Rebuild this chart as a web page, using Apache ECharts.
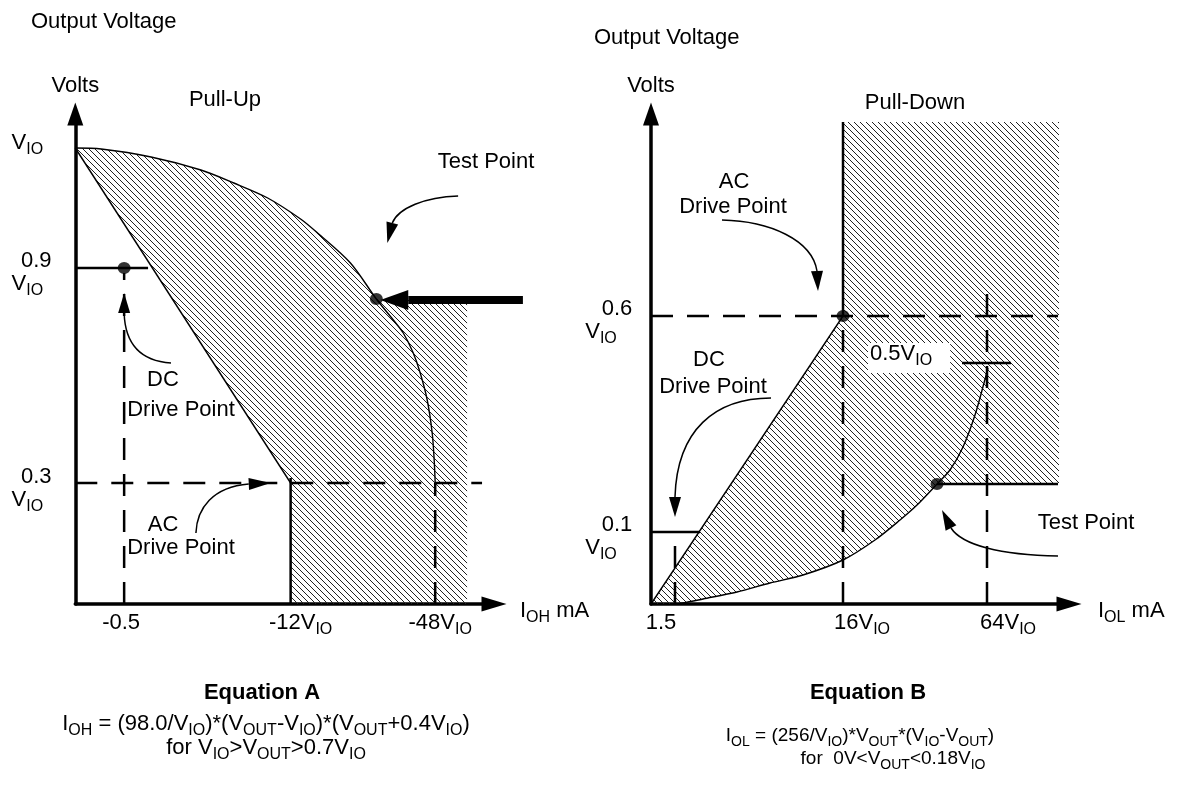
<!DOCTYPE html>
<html>
<head>
<meta charset="utf-8">
<script src="https://cdn.jsdelivr.net/npm/echarts@6/dist/echarts.min.js"></script>
<style>
  html, body { margin: 0; padding: 0; background: #fff; }
  #chart { width: 1180px; height: 793px; }
</style>
</head>
<body>
<div id="chart"></div>
<script>
// schematic drawing: axis units are "diagram units" measured from each panel's origin

// ---------- pull-up panel (left) ----------
const upXLabelAt = [46, 226, 366]
const upXLabelText = ['-0.5', '-12V{s|IO}', '-48V{s|IO}']
const upYLabelAt = [461, 331.5, 116]
const upYLabelText = ['V{s|IO}', '{n|0.9}\nV{s|IO}', '{n|0.3}\nV{s|IO}']
// outer boundary curve (V_IO down through the test point)
const upOuterCurve = [[0, 456], [26, 455], [76, 447], [126, 434], [159, 421], [193, 406], [226, 385], [243, 371],
  [276, 341], [302, 305], [319, 284], [329, 271], [339, 251], [346, 231], [353, 204], [358, 171], [360, 144], [361, 121]]
const upInnerLine = [[0, 456], [216, 121]]
const upHatch = [[0, 456], [26, 455], [76, 447], [126, 434], [159, 421], [193, 406], [226, 385], [243, 371],
  [276, 341], [302, 305], [393, 305], [393, 0], [216, 0], [216, 121]]
const upDots = [[49, 336], [302, 305]]
const upSolid = [[[0, 336], [73, 336]], [[216, 0], [216, 126]]]
const upDashed = [[[0, 121], [408, 121]], [[49, 0], [49, 331]], [[361, 0], [361, 121]]]

// ---------- pull-down panel (right) ----------
const downXLabelAt = [10, 211, 357]
const downXLabelText = ['1.5', '16V{s|IO}', '64V{s|IO}']
const downYLabelAt = [284, 68]
const downYLabelText = ['{n|0.6}\nV{s|IO}', '{n|0.1}\nV{s|IO}']
const downCurve = [[24, 0], [32, 1], [52, 5], [86, 12], [119, 21], [152, 29], [192, 44], [224, 64], [249, 84],
  [266, 99], [286, 120], [299, 134], [312, 157], [324, 189], [333, 221], [337, 236]]
const downUpperLine = [[0, 0], [192, 288]]
const downHatch = [[0, 0], [192, 288], [192, 482], [408, 482], [408, 120], [286, 120], [266, 99], [249, 84],
  [224, 64], [192, 44], [152, 29], [119, 21], [86, 12], [52, 5], [32, 1], [24, 0]]
const downDots = [[192, 288], [286, 120]]
const downSolid = [[[192, 288], [192, 482]], [[0, 72], [49, 72]], [[286, 120], [407, 120]], [[311, 241], [360, 241]]]
const downDashed = [[[0, 288], [407, 288]], [[192, 0], [192, 288]], [[336, 0], [336, 312]], [[24, 0], [24, 72]]]

// annotation arrows: start, control 1, control 2, head base, tip
const upArrows = [
  [[384, 408], [351, 407], [324, 396], [318, 381], [313, 361]],
  [[96, 241], [66, 243], [50, 259], [49, 291], [49, 311]],
  [[121, 71], [122, 96], [138, 117], [174, 120], [196, 121]]
]
const downArrows = [
  [[71, 384], [119, 383], [161, 364], [166, 333], [167, 313]],
  [[120, 206], [64, 206], [26, 174], [24, 107], [24, 87]],
  [[407, 48], [349, 49], [311, 59], [300, 76], [291, 94]]
]
const upBigArrow = [[449, 304], [334, 304], [306, 304]]

const FONT = "'Liberation Sans', Arial, Helvetica, sans-serif"

// hatch pattern tile
const tile = document.createElement('canvas')
tile.width = tile.height = 6
const tctx = tile.getContext('2d')
tctx.strokeStyle = '#222'
tctx.lineWidth = 1
for (const k of [-6, 0, 6]) {
  tctx.beginPath(); tctx.moveTo(k, 0); tctx.lineTo(k + 6, 6); tctx.stroke()
}
const hatchFill = { image: tile, repeat: 'repeat' }

function head(b, t, w) {
  const dx = t[0] - b[0], dy = t[1] - b[1]
  const len = Math.hypot(dx, dy) || 1
  const px = -dy / len * w / 2, py = dx / len * w / 2
  return { type: 'polygon', shape: { points: [t, [b[0] + px, b[1] + py], [b[0] - px, b[1] - py]] }, style: { fill: '#000' } }
}

function drawPanel(spec) {
  return function (params, api) {
    const P = p => api.coord(p)
    const kids = []
    kids.push({ type: 'polygon', shape: { points: spec.hatch.map(P) }, style: { fill: hatchFill, stroke: null } })
    spec.dashed.forEach(seg => {
      const a = P(seg[0]), b = P(seg[1])
      kids.push({ type: 'line', shape: { x1: a[0], y1: a[1], x2: b[0], y2: b[1] }, style: { stroke: '#000', lineWidth: 2.5, lineDash: [22, 14] } })
    })
    spec.solid.forEach(seg => {
      const a = P(seg[0]), b = P(seg[1])
      kids.push({ type: 'line', shape: { x1: a[0], y1: a[1], x2: b[0], y2: b[1] }, style: { stroke: '#000', lineWidth: 2.5 } })
    })
    spec.thin.forEach(seg => {
      const a = P(seg[0]), b = P(seg[1])
      kids.push({ type: 'line', shape: { x1: a[0], y1: a[1], x2: b[0], y2: b[1] }, style: { stroke: '#000', lineWidth: 1.4 } })
    })
    spec.arrows.forEach(ar => {
      const [s, c1, c2, e, t] = ar.map(P)
      kids.push({ type: 'bezierCurve', shape: { x1: s[0], y1: s[1], cpx1: c1[0], cpy1: c1[1], cpx2: c2[0], cpy2: c2[1], x2: e[0], y2: e[1] },
        style: { stroke: '#000', lineWidth: 1.5, fill: 'none' } })
      kids.push(head(e, t, 12))
    })
    if (spec.big) {
      const [a, b, t] = spec.big.map(P)
      kids.push({ type: 'line', shape: { x1: a[0], y1: a[1], x2: b[0], y2: b[1] }, style: { stroke: '#000', lineWidth: 8 } })
      kids.push(head(b, t, 20))
    }
    return { type: 'group', children: kids }
  }
}

const subAxis = { fontSize: 16, fontFamily: FONT, color: '#000', padding: [14, 0, 0, 0], lineHeight: 20 }
const subG = { fontSize: 16, fontFamily: FONT, fill: '#000', padding: [14, 0, 0, 0], lineHeight: 20 }
const subEq = { fontSize: 14, fontFamily: FONT, fill: '#000', padding: [12, 0, 0, 0], lineHeight: 16 }

function xAxisOf(grid, max, at, text, name, gap) {
  return {
    type: 'value', gridIndex: grid, min: 0, max: max,
    axisLine: { show: true, onZero: false, symbol: ['none', 'triangle'], symbolSize: [15, 25], lineStyle: { color: '#000', width: 3.5 } },
    axisTick: { show: false }, splitLine: { show: false },
    axisLabel: {
      customValues: at, formatter: v => text[at.indexOf(v)] || '',
      fontSize: 22, fontFamily: FONT, color: '#000', margin: 7, lineHeight: 23, rich: { s: subAxis }
    },
    name: name, nameLocation: 'end', nameGap: gap,
    nameTextStyle: { fontSize: 22, fontFamily: FONT, color: '#000', align: 'left', verticalAlign: 'middle', padding: [14, 0, 0, 0], rich: { s: subAxis } }
  }
}
function yAxisOf(grid, at, text, margin, numPad) {
  return {
    type: 'value', gridIndex: grid, min: 0, max: 490,
    axisLine: { show: true, onZero: false, symbol: ['none', 'triangle'], symbolSize: [16, 23], lineStyle: { color: '#000', width: 3.5 } },
    axisTick: { show: false }, splitLine: { show: false },
    axisLabel: {
      customValues: at, formatter: v => text[at.indexOf(v)] || '',
      fontSize: 22, fontFamily: FONT, color: '#000', margin: margin, align: 'center', lineHeight: 23,
      rich: { s: subAxis, n: { fontSize: 22, fontFamily: FONT, color: '#000', padding: [0, 0, 0, numPad] } }
    },
    name: 'Volts', nameLocation: 'end', nameGap: 28,
    nameTextStyle: { fontSize: 22, fontFamily: FONT, color: '#000', align: 'center', verticalAlign: 'middle' }
  }
}

function txt(x, y, text, extra) {
  return {
    type: 'text', x: x, y: y, z: 50,
    style: Object.assign({ text: text, fontSize: 22, fontFamily: FONT, fill: '#000', align: 'center', verticalAlign: 'middle',
      textAlign: 'center', textVerticalAlign: 'middle', rich: { s: subG } }, extra || {})
  }
}
function eqSmall(x, y, text) {
  return txt(x, y, text, { fontSize: 19, rich: { s: subEq } })
}

const chart = echarts.init(document.getElementById('chart'))
chart.setOption({
  animation: false,
  backgroundColor: '#fff',
  textStyle: { fontFamily: FONT },
  grid: [
    { left: 74, top: 114, width: 420, height: 490 },
    { left: 651, top: 114, width: 418, height: 490 }
  ],
  xAxis: [
    xAxisOf(0, 420, upXLabelAt, upXLabelText, 'I{s|OH} mA', 26),
    xAxisOf(1, 418, downXLabelAt, downXLabelText, 'I{s|OL} mA', 29)
  ],
  yAxis: [
    yAxisOf(0, upYLabelAt, upYLabelText, 48, 18),
    yAxisOf(1, downYLabelAt, downYLabelText, 50, 32)
  ],
  series: [
    { type: 'custom', xAxisIndex: 0, yAxisIndex: 0, z: 1, silent: true, data: [[0, 0]],
      renderItem: drawPanel({ hatch: upHatch, dashed: upDashed, solid: upSolid, thin: [upInnerLine], arrows: upArrows, big: upBigArrow }) },
    { type: 'custom', xAxisIndex: 1, yAxisIndex: 1, z: 1, silent: true, data: [[0, 0]],
      renderItem: drawPanel({ hatch: downHatch, dashed: downDashed, solid: downSolid, thin: [downUpperLine], arrows: downArrows }) },
    { type: 'line', xAxisIndex: 0, yAxisIndex: 0, z: 3, data: upOuterCurve, smooth: 0.3, showSymbol: false, lineStyle: { color: '#000', width: 1.4 } },
    { type: 'line', xAxisIndex: 1, yAxisIndex: 1, z: 3, data: downCurve, smooth: 0.3, showSymbol: false, lineStyle: { color: '#000', width: 1.4 } },
    { type: 'scatter', xAxisIndex: 0, yAxisIndex: 0, z: 4, data: upDots, symbolSize: [13, 12], itemStyle: { color: '#000' } },
    { type: 'scatter', xAxisIndex: 1, yAxisIndex: 1, z: 4, data: downDots, symbolSize: [13, 12], itemStyle: { color: '#000' } }
  ],
  graphic: [
    txt(31, 22, 'Output Voltage', { align: 'left', textAlign: 'left' }),
    txt(594, 38, 'Output Voltage', { align: 'left', textAlign: 'left' }),
    txt(225, 100, 'Pull-Up'),
    txt(915, 103, 'Pull-Down'),
    txt(486, 162, 'Test Point'),
    txt(163, 380, 'DC'), txt(181, 410, 'Drive Point'),
    txt(163, 525, 'AC'), txt(181, 548, 'Drive Point'),
    txt(734, 182, 'AC'), txt(733, 207, 'Drive Point'),
    txt(709, 360, 'DC'), txt(713, 387, 'Drive Point'),
    txt(1086, 523, 'Test Point'),
    txt(868, 343, '0.5V{s|IO}', { align: 'left', textAlign: 'left', verticalAlign: 'top', textVerticalAlign: 'top',
      backgroundColor: '#fff', padding: [0, 18, 8, 2] }),
    txt(262, 693, 'Equation A', { fontWeight: 'bold' }),
    txt(266, 724, 'I{s|OH} = (98.0/V{s|IO})*(V{s|OUT}-V{s|IO})*(V{s|OUT}+0.4V{s|IO})'),
    txt(266, 748, 'for V{s|IO}>V{s|OUT}>0.7V{s|IO}'),
    txt(868, 693, 'Equation B', { fontWeight: 'bold' }),
    eqSmall(860, 736, 'I{s|OL} = (256/V{s|IO})*V{s|OUT}*(V{s|IO}-V{s|OUT})'),
    eqSmall(893, 759, 'for  0V<V{s|OUT}<0.18V{s|IO}')
  ]
})
</script>
</body>
</html>
